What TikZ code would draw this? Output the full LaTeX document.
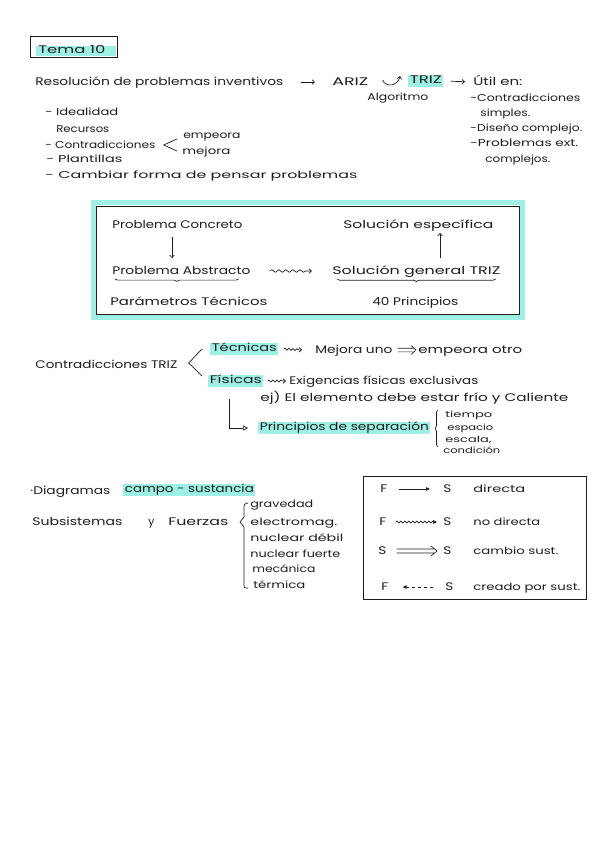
\documentclass[tikz,border=0pt]{standalone}
\usepackage{fontspec}
\setmainfont{Poppins}
\usetikzlibrary{arrows.meta,decorations.pathmorphing,decorations.pathreplacing,calc}
\definecolor{hlc}{RGB}{158,240,228}
\definecolor{ink}{RGB}{30,30,30}
\newcommand\fitw[2]{\resizebox{#1pt}{\height}{\vphantom{Áy}#2}}
\newcommand\fith[2]{\resizebox{#1pt}{\height}{\vphantom{ly}#2}}
\begin{document}
\begin{tikzpicture}[x=1pt,y=-1pt,color=ink,line width=0.7pt,
 t/.style={anchor=west,inner sep=0pt,font=\fontsize{11}{13}\selectfont},
 ts/.style={t,font=\fontsize{10}{12}\selectfont},
 tss/.style={t,font=\fontsize{8.5}{10}\selectfont},
 hl/.style={fill=hlc,inner xsep=1.5pt,inner ysep=0.5pt},
 arr/.style={-{Straight Barb[length=2.5pt,width=4.5pt]}},
 tri/.style={-{Triangle[length=4pt,width=3.5pt]}},
 wav/.style={decorate,decoration={snake,amplitude=1.3pt,segment length=7pt,post length=3pt}},
 wavs/.style={decorate,decoration={snake,amplitude=1pt,segment length=4pt,post length=2.5pt}},
 brc/.style={decorate,decoration={brace,amplitude=2.5pt}},
 brcm/.style={decorate,decoration={brace,mirror,amplitude=2.5pt}}]
\fill[white] (0,0) rectangle (600,848);
\useasboundingbox (0,0) rectangle (600,848);

% Tema 10
\fill[hlc] (36,46) rectangle (116,56.5);
\draw (30,36) rectangle (117,57);
\node[t] (tema) at (38,50) {\fitw{67}{Tema 10}};

% first line
\node[t] (res) at (35,82) {\fitw{248}{Resolución de problemas inventivos}};
\node[t] (ariz) at (332,82) {\fitw{36}{ARIZ}};
\node[t,hl] (triz) at (408,81) {\fith{32}{TRIZ}};
\node[t] (util) at (473,82) {\fitw{49}{Útil en:}};
\node[ts] (algo) at (367,97) {\fitw{61}{Algoritmo}};
\draw[arr,shorten <=17pt,shorten >=17pt] (res.east) -- (ariz.west);
\draw[arr] ($(ariz.east)+(14,-2)$) .. controls +(3,8) and +(-2,10) .. ($(triz.west)+(-8,-5)$);
\draw[arr,shorten <=7pt,shorten >=8pt] (triz.east) -- (util.west);

\node[ts] (u1) at (470,98) {\fitw{110}{-Contradicciones}};
\node[ts] (u2) at (480,113) {\fitw{50}{simples.}};
\node[ts] (u3) at (470,128) {\fitw{112}{-Diseño complejo.}};
\node[ts] (u4) at (470,143) {\fitw{108}{-Problemas ext.}};
\node[ts] (u5) at (485,159) {\fitw{65}{complejos.}};

% left list
\node[ts] (l1) at (45,112) {\fitw{73}{- Idealidad}};
\node[ts] (l2) at (56,129) {\fitw{53}{Recursos}};
\node[ts] (l3) at (45,145) {\fitw{110}{- Contradicciones}};
\node[ts] (l4) at (46,159) {\fitw{76}{- Plantillas}};
\node[ts] (l5) at (45,175) {\fitw{312}{- Cambiar forma de pensar problemas}};
\node[ts] (emp) at (183,135) {\fitw{57}{empeora}};
\node[ts] (mej) at (182,151) {\fitw{48}{mejora}};
\draw ($(emp.west)+(-6,4)$) -- ($(l3.east)+(8,0)$) -- ($(mej.west)+(-5,0)$);

% main box
\draw[hlc,line width=5pt] (93.5,202.5) rectangle (522.5,317.5);
\draw[line width=1pt] (96.5,206.5) rectangle (519,314);
\node[t] (pc) at (112,225) {\fitw{130}{Problema Concreto}};
\node[t] (pa) at (112,271) {\fitw{138}{Problema Abstracto}};
\node[t] (se) at (343,225) {\fitw{150}{Solución específica}};
\node[t] (sg) at (332,271) {\fitw{168}{Solución general TRIZ}};
\node[t] (pt) at (110,302) {\fitw{157}{Parámetros Técnicos}};
\node[t] (cp) at (372,302) {\fitw{86}{40 Principios}};
\draw[arr] ($(pc.south west)+(60,5)$) -- ($(pa.north west)+(60,-6)$);
\draw[arr] ($(sg.north west)+(108,-6)$) -- ($(se.south west)+(97,1)$);
\draw[arr,wav] ($(pa.east)+(19,0)$) -- ($(sg.west)+(-20,0)$);
\draw[brcm] ($(pa.south west)+(3,1)$) -- ($(pa.south east)+(-12,1)$);
\draw[brcm] ($(sg.south west)+(5,1)$) -- ($(sg.south east)+(-5,1)$);

% Contradicciones
\node[t] (ct) at (35,365) {\fitw{142}{Contradicciones TRIZ}};
\node[t,hl] (tec) at (210,349) {\fith{65}{Técnicas}};
\node[t] (m1) at (315,350) {\fitw{77}{Mejora uno}};
\node[t] (m2) at (418,350) {\fitw{104}{empeora otro}};
\draw[line width=0.6pt] ($(m1.east)+(5,-1.8)$) -- ($(m2.west)+(-4,-1.8)$)
  ($(m1.east)+(5,1.8)$) -- ($(m2.west)+(-4,1.8)$)
  ($(m2.west)+(-7,-4.5)$) -- ($(m2.west)+(-2,0)$) -- ($(m2.west)+(-7,4.5)$);
\draw[arr,wavs] ($(tec.east)+(5,0)$) -- ($(m1.west)+(-13,0)$);
\node[t,hl] (fis) at (208,381) {\fith{52}{Físicas}};
\node[t] (ex) at (289,381) {\fitw{189}{Exigencias físicas exclusivas}};
\draw[arr,wavs] ($(fis.east)+(4,0)$) -- ($(ex.west)+(-3,0)$);
\node[t] (ej) at (260,398) {\fitw{308}{ej) El elemento debe estar frío y Caliente}};
\draw ($(tec.west)+(-8,0)$) -- ($(ct.east)+(11,-2)$) -- ($(fis.west)+(-6,-5)$);
\node[t,hl] (princ) at (258,428) {\fith{169}{Principios de separación}};
\draw[-{Triangle[open,length=5pt,width=5pt]}] ($(fis.south west)+(21,11)$) |- ($(princ.west)+(-10,0)$);
\draw[brc] ($(princ.east)+(7,19)$) -- ($(princ.east)+(7,-18)$);
\node[tss] (s1) at (445,415) {\fitw{47}{tiempo}};
\node[tss] (s2) at (447,428) {\fitw{46}{espacio}};
\node[tss] (s3) at (445,440) {\fitw{46}{escala,}};
\node[tss] (s4) at (443,451) {\fitw{57}{condición}};

% Diagramas
\node[t] (dg) at (30,491) {\fitw{80}{·Diagramas}};
\node[t,hl] (cs) at (123,490) {\fith{129}{campo - sustancia}};
\node[t] (sub) at (32,522) {\fitw{90}{Subsistemas}};
\node[t] (yy) at (148,522) {\fitw{6}{y}};
\node[t] (fz) at (168,522) {\fitw{60}{Fuerzas}};
\draw (248,503) .. controls (244,504) .. (244,509) -- (244,517) -- (240,522) -- (244,527) -- (244,584) .. controls (244,588) .. (248,588);
\node[ts] (g1) at (250,504) {\fitw{63}{gravedad}};
\node[ts] (g2) at (250,522) {\fitw{87}{electromag.}};
\node[ts] (g3) at (250,538) {\fitw{93}{nuclear débil}};
\node[ts] (g4) at (250,554) {\fitw{90}{nuclear fuerte}};
\node[ts] (g5) at (252,569) {\fitw{63}{mecánica}};
\node[ts] (g6) at (253,585) {\fitw{52}{térmica}};

% legend box
\draw (363,476) rectangle (586,599);
\node[t] (F1) at (380,489) {\fitw{7}{F}};
\node[t] (S1) at (443,489) {\fitw{8}{S}};
\node[ts] (d1) at (473,489) {\fitw{52}{directa}};
\draw[tri] ($(F1.east)+(11,0)$) -- ($(S1.west)+(-13,0)$);
\node[t] (F2) at (379,522) {\fitw{7}{F}};
\node[t] (S2) at (443,522) {\fitw{8}{S}};
\node[ts] (d2) at (473,522) {\fitw{67}{no directa}};
\draw[tri,wavs] ($(F2.east)+(9,0)$) -- ($(S2.west)+(-6,0)$);
\node[t] (S3a) at (378,551) {\fitw{8}{S}};
\node[t] (S3b) at (443,551) {\fitw{8}{S}};
\node[ts] (d3) at (473,551) {\fitw{85}{cambio sust.}};
\draw[line width=0.6pt] ($(S3a.east)+(10,-2)$) -- ($(S3b.west)+(-8,-2)$)
  ($(S3a.east)+(10,2)$) -- ($(S3b.west)+(-8,2)$)
  ($(S3b.west)+(-12,-5)$) -- ($(S3b.west)+(-6,0)$) -- ($(S3b.west)+(-12,5)$);
\node[t] (F4) at (381,587) {\fitw{7}{F}};
\node[t] (S4) at (445,587) {\fitw{8}{S}};
\node[ts] (d4) at (473,587) {\fitw{107}{creado por sust.}};
\draw[dashed,tri] ($(S4.west)+(-12,0)$) -- ($(F4.east)+(14,0)$);
\end{tikzpicture}
\end{document}
